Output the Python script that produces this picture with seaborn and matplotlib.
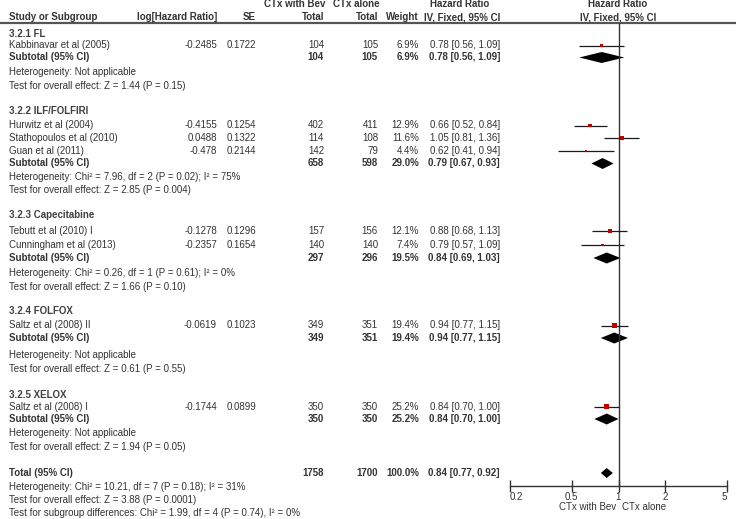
"""
Forest plot: CTx with Bev vs CTx alone, hazard ratio by regimen subgroup
(RevMan style, IV fixed effect).
"""

import numpy as np
import pandas as pd
import matplotlib
matplotlib.use("Agg")
import matplotlib.pyplot as plt
import seaborn as sns


# ---------------------------------------------------------------- data
studies = [
    "Kabbinavar et al (2005)",
    "Hurwitz et al (2004)",
    "Stathopoulos et al (2010)",
    "Guan et al (2011)",
    "Tebutt et al (2010) I",
    "Cunningham et al (2013)",
    "Saltz et al (2008) II",
    "Saltz et al (2008) I",
]
study_group = [0, 1, 1, 1, 2, 2, 3, 4]
log_hr = [-0.2485, -0.4155, 0.0488, -0.478, -0.1278, -0.2357, -0.0619, -0.1744]
se = [0.1722, 0.1254, 0.1322, 0.2144, 0.1296, 0.1654, 0.1023, 0.0899]
n_bev = [104, 402, 114, 142, 157, 140, 349, 350]
n_alone = [105, 411, 108, 79, 156, 140, 351, 350]
weight = [6.9, 12.9, 11.6, 4.4, 12.1, 7.4, 19.4, 25.2]
hr = [0.78, 0.66, 1.05, 0.62, 0.88, 0.79, 0.94, 0.84]
ci_lo = [0.56, 0.52, 0.81, 0.41, 0.68, 0.57, 0.77, 0.70]
ci_hi = [1.09, 0.84, 1.36, 0.94, 1.13, 1.09, 1.15, 1.00]

groups = ["3.2.1 FL", "3.2.2 ILF/FOLFIRI", "3.2.3 Capecitabine",
          "3.2.4 FOLFOX", "3.2.5 XELOX"]
sub_n_bev = [104, 658, 297, 349, 350]
sub_n_alone = [105, 598, 296, 351, 350]
sub_weight = [6.9, 29.0, 19.5, 19.4, 25.2]
sub_hr = [0.78, 0.79, 0.84, 0.94, 0.84]
sub_lo = [0.56, 0.67, 0.69, 0.77, 0.70]
sub_hi = [1.09, 0.93, 1.03, 1.15, 1.00]
sub_het = [
    "Heterogeneity: Not applicable",
    "Heterogeneity: Chi\u00b2 = 7.96, df = 2 (P = 0.02); I\u00b2 = 75%",
    "Heterogeneity: Chi\u00b2 = 0.26, df = 1 (P = 0.61); I\u00b2 = 0%",
    "Heterogeneity: Not applicable",
    "Heterogeneity: Not applicable",
]
sub_test = [
    "Test for overall effect: Z = 1.44 (P = 0.15)",
    "Test for overall effect: Z = 2.85 (P = 0.004)",
    "Test for overall effect: Z = 1.66 (P = 0.10)",
    "Test for overall effect: Z = 0.61 (P = 0.55)",
    "Test for overall effect: Z = 1.94 (P = 0.05)",
]

total_n_bev = 1758
total_n_alone = 1700
total_weight = 100.0
total_hr, total_lo, total_hi = 0.84, 0.77, 0.92
total_notes = [
    "Heterogeneity: Chi\u00b2 = 10.21, df = 7 (P = 0.18); I\u00b2 = 31%",
    "Test for overall effect: Z = 3.88 (P = 0.0001)",
    "Test for subgroup differences: Chi\u00b2 = 1.99, df = 4 (P = 0.74), I\u00b2 = 0%",
]

axis_ticks = [0.2, 0.5, 1, 2, 5]
axis_labels = ["0.2", "0.5", "1", "2", "5"]

# ---------------------------------------------------------------- layout (pixels)
W, H = 736, 519
# y of each row: heading, studies..., subtotal, heterogeneity, test
group_rows = [
    [34, 45.5, 57.5, 72, 86],
    [111, 125.5, 138, 151, 163.5, 177, 190],
    [215, 231, 245, 258, 273, 286.5],
    [311.5, 325.5, 338, 354.5, 368.5],
    [394.5, 406.5, 419, 433.5, 447.5],
]
total_row = 473
total_note_rows = [487, 500, 513]
header_rows = [4, 17]
rule_y = 23
axis_y = 485.5

X_NAME, X_LOG, X_SE, X_NB, X_NA, X_W, X_HR = 9, 217, 256, 324, 378, 419, 500
FX0, FX1 = 509.7, 727.3  # plot area for 0.2 .. 5

TXT = "#333333"
RED = "#c00000"
FS = 7.0

sns.set_style("white")
plt.rcParams["font.family"] = ["Liberation Sans", "DejaVu Sans"]

fig = plt.figure(figsize=(W / 100, H / 100), dpi=100)
tax = fig.add_axes([0, 0, 1, 1])
tax.set_xlim(0, W)
tax.set_ylim(H, 0)
tax.axis("off")

fax = fig.add_axes([FX0 / W, 0, (FX1 - FX0) / W, 1])
fax.set_xscale("log")
fax.set_xlim(0.2, 5)
fax.set_ylim(H, 0)
fax.patch.set_alpha(0)


def put(x, y, s, ha="left", bold=False, color=TXT, size=FS):
    tax.text(x, y, s, ha=ha, va="center", fontsize=size, color=color,
             fontweight="bold" if bold else "normal")


def hr_text(h, lo, hi):
    return f"{h:.2f} [{lo:.2f}, {hi:.2f}]"


def diamond(y, h, lo, hi, half=5.5):
    fax.fill([lo, h, hi, h], [y, y - half, y, y + half], color="black", lw=0)


# ---------------------------------------------------------------- header
put(X_NB + 1, header_rows[0], "CTx with Bev", ha="right", bold=True)
put(333, header_rows[0], "CTx alone", bold=True)
put(460, header_rows[0], "Hazard Ratio", ha="center", bold=True)
put(618, header_rows[0], "Hazard Ratio", ha="center", bold=True)
put(X_NAME, header_rows[1], "Study or Subgroup", bold=True)
put(X_LOG, header_rows[1], "log[Hazard Ratio]", ha="right", bold=True)
put(X_SE, header_rows[1], "SE", ha="right", bold=True)
put(X_NB, header_rows[1], "Total", ha="right", bold=True)
put(X_NA, header_rows[1], "Total", ha="right", bold=True)
put(X_W, header_rows[1], "Weight", ha="right", bold=True)
put(X_HR, header_rows[1], "IV, Fixed, 95% CI", ha="right", bold=True)
put(618, header_rows[1], "IV, Fixed, 95% CI", ha="center", bold=True)
tax.plot([0, W], [rule_y, rule_y], color="#555555", lw=1.6)

# ---------------------------------------------------------------- rows
study_y = []
for g, rows in enumerate(group_rows):
    idx = [i for i, sg in enumerate(study_group) if sg == g]
    put(X_NAME, rows[0], groups[g], bold=True, color="#404040")
    for k, i in enumerate(idx):
        y = rows[1 + k]
        study_y.append(y)
        put(X_NAME, y, studies[i])
        put(X_LOG, y, f"{log_hr[i]:g}", ha="right")
        put(X_SE, y, f"{se[i]:.4f}", ha="right")
        put(X_NB, y, str(n_bev[i]), ha="right")
        put(X_NA, y, str(n_alone[i]), ha="right")
        put(X_W, y, f"{weight[i]:.1f}%", ha="right")
        put(X_HR, y, hr_text(hr[i], ci_lo[i], ci_hi[i]), ha="right")
    ys = rows[1 + len(idx)]
    put(X_NAME, ys, "Subtotal (95% CI)", bold=True)
    put(X_NB, ys, str(sub_n_bev[g]), ha="right", bold=True)
    put(X_NA, ys, str(sub_n_alone[g]), ha="right", bold=True)
    put(X_W, ys, f"{sub_weight[g]:.1f}%", ha="right", bold=True)
    put(X_HR, ys, hr_text(sub_hr[g], sub_lo[g], sub_hi[g]), ha="right", bold=True)
    put(X_NAME, rows[2 + len(idx)], sub_het[g])
    put(X_NAME, rows[3 + len(idx)], sub_test[g])
    diamond(ys, sub_hr[g], sub_lo[g], sub_hi[g])

put(X_NAME, total_row, "Total (95% CI)", bold=True)
put(X_NB, total_row, str(total_n_bev), ha="right", bold=True)
put(X_NA, total_row, str(total_n_alone), ha="right", bold=True)
put(X_W, total_row, f"{total_weight:.1f}%", ha="right", bold=True)
put(X_HR, total_row, hr_text(total_hr, total_lo, total_hi), ha="right", bold=True)
for y, s in zip(total_note_rows, total_notes):
    put(X_NAME, y, s)
diamond(total_row, total_hr, total_lo, total_hi, half=5)

# ---------------------------------------------------------------- forest marks
df = pd.DataFrame({"hr": hr, "lo": ci_lo, "hi": ci_hi, "w": weight, "y": study_y})
fax.hlines(df["y"], df["lo"], df["hi"], color="#1a1a1a", lw=0.9, zorder=2)
sns.scatterplot(data=df, x="hr", y="y", size="w", sizes=(0, 18), size_norm=(0, 30),
                marker="s", color=RED, linewidth=0, legend=False, ax=fax, zorder=3)
fax.vlines(1, rule_y, axis_y, color="#333333", lw=1.0, zorder=1)

# ---------------------------------------------------------------- axis
for side in ["left", "right", "top"]:
    fax.spines[side].set_visible(False)
fax.spines["bottom"].set_position(("data", axis_y))
fax.spines["bottom"].set_bounds(0.2, 5)
fax.spines["bottom"].set_color("#333333")
fax.spines["bottom"].set_linewidth(1.0)
fax.minorticks_off()
fax.set_yticks([])
fax.set_xticks(axis_ticks, labels=axis_labels)
fax.tick_params(axis="x", direction="inout", length=8, width=1.0, color="#333333",
                pad=1, labelsize=FS, labelcolor=TXT, bottom=True)
labels = fax.get_xticklabels()
labels[0].set_horizontalalignment("left")
labels[-1].set_horizontalalignment("right")
fax.set_xlabel("")
fax.set_ylabel("")

put(616, 506.5, "CTx with Bev", ha="right")
put(622.5, 506.5, "CTx alone")

fig.savefig("out.png", dpi=100)
